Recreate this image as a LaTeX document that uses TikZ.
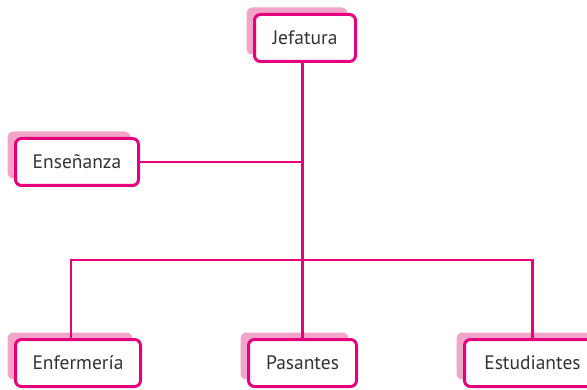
\documentclass[tikz,border=0pt]{standalone}
\usepackage{fontspec}
\setmainfont{PT Sans}
\definecolor{rosa}{HTML}{E4007C}
\definecolor{rosaclaro}{HTML}{F2A5C9}
\definecolor{texto}{HTML}{333333}
\tikzset{
  unit/.style={draw=rosa, line width=3pt, rounded corners=6pt, fill=white,
    text=texto, minimum height=47pt, inner sep=0pt, font=\fontsize{19.5}{22}\selectfont,
    preaction={fill=rosaclaro, draw=none, transform canvas={shift={(-8pt,7pt)}}}},
  link/.style={draw=rosa, line width=2.6pt}
}
\begin{document}
\begin{tikzpicture}[x=1pt,y=1pt]
\useasboundingbox (0,0) rectangle (587,389);
\coordinate (bar) at (302.5,129);
\node[unit, minimum width=101pt] (jef) at (305,351) {Jefatura};
\node[unit, minimum width=123pt] (ens) at (77,227) {Enseñanza};
\node[unit, minimum width=125pt] (enf) at (78,26) {Enfermería};
\node[unit, minimum width=108pt] (pas) at (302.5,26) {Pasantes};
\node[unit, minimum width=136pt] (est) at (532.5,26) {Estudiantes};
\draw[link] (jef.south -| pas.north) -- (pas.north);
\draw[link] (ens.east) -- (ens.east -| pas.north);
\draw[link] ([xshift=-7pt]enf.north) |- (bar) -| (est.north);
\end{tikzpicture}
\end{document}
